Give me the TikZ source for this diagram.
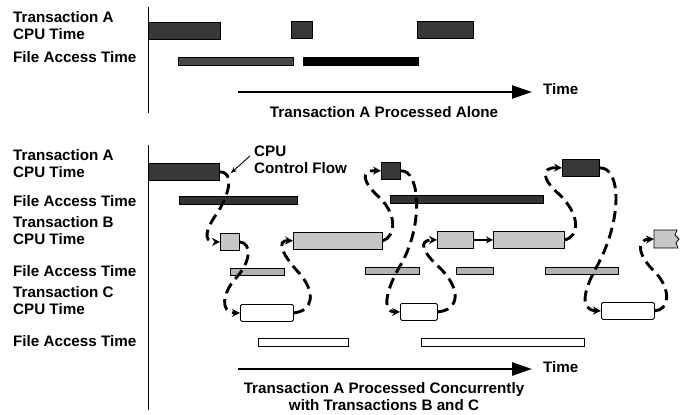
\documentclass[tikz,border=0pt]{standalone}
\usepackage{fontspec}
\setmainfont{Liberation Sans}
\usetikzlibrary{arrows.meta, positioning}

\begin{document}
\begin{tikzpicture}[
    x=1pt, y=-1pt,
    every node/.style={font=\fontsize{15.2}{17}\selectfont\bfseries},
    lbl/.style={anchor=west, align=left, inner sep=0pt},
    bar/.style={anchor=north west, inner sep=0pt, minimum height=17pt, draw=black, line width=0.8pt},
    cpuA/.style={bar, fill=black!78},
    fileA/.style={bar, minimum height=8pt, fill=black!72},
    cpuB/.style={bar, fill=black!22},
    fileB/.style={bar, minimum height=7pt, fill=black!30},
    cpuC/.style={bar, fill=white, rounded corners=1.5pt},
    fileC/.style={bar, minimum height=8pt, fill=white},
    flow/.style={-{Stealth[length=8pt, width=8pt]}, line width=2.9pt, dash pattern=on 11pt off 6pt},
    timearrow/.style={-{Triangle[length=20pt, width=13pt]}, line width=2.5pt},
    axis/.style={line width=1pt}
]
    \useasboundingbox (0,0) rectangle (683,415);

    % Transaction A processed alone
    \node[lbl] (tla) at (13,26) {Transaction A\\CPU Time};
    \node[lbl] (tlf) at (13,57) {File Access Time};
    \coordinate (tx1) at (148,7);
    \coordinate (tx2) at (148,113);
    \draw[axis] (tx1) -- (tx2);

    \node[cpuA, minimum width=72pt] (ta1) at (148,22) {};
    \node[cpuA, minimum width=21pt] (ta2) at (291,21) {};
    \node[cpuA, minimum width=56pt] (ta3) at (417,21) {};
    \node[fileA, minimum width=115pt] (tf1) at (178,57) {};
    \node[fileA, minimum width=115pt, fill=black] (tf2) at (303,57) {};

    \node[lbl] (time1) at (543,89) {Time};
    \coordinate (ts1) at (238,92);
    \coordinate (te1) at (532,92);
    \draw[timearrow] (ts1) -- (te1);
    \node (cap1) at (384,112) {Transaction A Processed Alone};

    % Transaction A processed concurrently
    \node[lbl] (la) at (13,164) {Transaction A\\CPU Time};
    \node[lbl] (lfa) at (13,201) {File Access Time};
    \node[lbl] (lb) at (13,231) {Transaction B\\CPU Time};
    \node[lbl] (lfb) at (13,271) {File Access Time};
    \node[lbl] (lc) at (13,301) {Transaction C\\CPU Time};
    \node[lbl] (lfc) at (13,341) {File Access Time};
    \coordinate (x1) at (148,145);
    \coordinate (x2) at (148,410);
    \draw[axis] (x1) -- (x2);

    \node[cpuA, minimum width=71pt] (a1) at (148,163) {};
    \node[cpuA, minimum width=19pt] (a2) at (381,162) {};
    \node[cpuA, minimum width=37pt] (a3) at (562,159) {};
    \node[fileA, minimum width=118pt, fill=black!80] (fa1) at (179,196) {};
    \node[fileA, minimum width=153pt, fill=black!80] (fa2) at (390,195) {};

    \node[cpuB, minimum width=19pt] (b1) at (220,233) {};
    \node[cpuB, minimum width=89pt] (b2) at (293,232) {};
    \node[cpuB, minimum width=36pt] (b3) at (437,231) {};
    \node[cpuB, minimum width=71pt] (b4) at (493,231) {};
    \filldraw[fill=black!22, line width=0.8pt] (654,230) -- (677,230) -- (675,235) -- (679,239) -- (676,243) -- (678,248) -- (654,248) -- cycle;
    \coordinate (b5) at (654,239);
    \node[fileB, minimum width=54pt] (fb1) at (230,268) {};
    \node[fileB, minimum width=54pt] (fb2) at (365,267) {};
    \node[fileB, minimum width=37pt] (fb3) at (456,267) {};
    \node[fileB, minimum width=73pt] (fb4) at (545,267) {};

    \node[cpuC, minimum width=53pt] (c1) at (240,304) {};
    \node[cpuC, minimum width=37pt] (c2) at (400,303) {};
    \node[cpuC, minimum width=53pt] (c3) at (601,302) {};
    \node[fileC, minimum width=90pt] (fc1) at (258,338) {};
    \node[fileC, minimum width=163pt] (fc2) at (421,338) {};

    % CPU control flow
    \draw[flow] (a1.east) .. controls (234,172) and (230,192) .. (218,212) .. controls (206,228) and (202,242) .. (b1.west);
    \draw[flow] (b1.east) .. controls (252,243) and (251,262) .. (236,278) .. controls (222,293) and (220,313) .. (c1.west);
    \draw[flow] (c1.east) .. controls (313,311) and (316,293) .. (300,274) .. controls (282,255) and (276,240) .. (b2.west);
    \draw[flow] (b2.east) .. controls (396,236) and (397,215) .. (380,198) .. controls (362,182) and (360,170) .. (a2.west);
    \draw[flow] (a2.east) .. controls (420,169) and (424,226) .. (400,266) .. controls (388,286) and (380,312) .. (c2.west);
    \draw[flow] (c2.east) .. controls (459,310) and (462,290) .. (440,268) .. controls (422,252) and (418,240) .. (b3.west);
    \draw[-{Stealth[length=7pt, width=7pt]}, line width=1.5pt] (b3) -- (b4);
    \draw[flow] (b4.east) .. controls (580,236) and (580,215) .. (560,195) .. controls (542,180) and (540,167) .. (a3.west);
    \draw[flow] (a3.east) .. controls (621,167) and (623,220) .. (596,268) .. controls (584,290) and (579,310) .. (c3.west);
    \draw[flow] (c3.east) .. controls (669,310) and (672,290) .. (655,272) .. controls (640,258) and (634,240) .. (b5);

    \node[lbl] (cf) at (254,160) {CPU\\Control Flow};
    \coordinate (cfp) at (231,173);
    \draw[-{Stealth[length=6pt, width=5pt]}, line width=0.9pt] ([shift={(-4,10)}]cf.north west) -- (cfp);

    \node[lbl] (time2) at (543,367) {Time};
    \coordinate (ts2) at (238,369);
    \coordinate (te2) at (532,369);
    \draw[timearrow] (ts2) -- (te2);
    \node[align=center, inner sep=0pt] (cap2) at (384,397) {Transaction A Processed Concurrently\\with Transactions B and C};

\end{tikzpicture}
\end{document}
